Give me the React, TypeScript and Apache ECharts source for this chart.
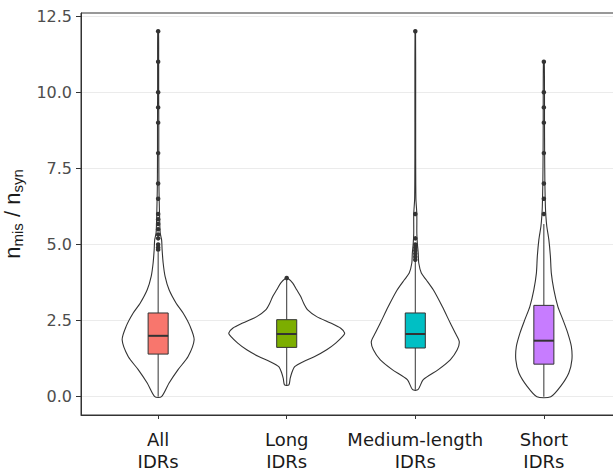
import React, { useEffect, useRef } from 'react';
import * as echarts from 'echarts';

const categories = ['All\nIDRs', 'Long\nIDRs', 'Medium-length\nIDRs', 'Short\nIDRs'];
const colors = ['#F8766D', '#7CAE00', '#00BFC4', '#C77CFF'];
const yTicks = [0, 2.5, 5, 7.5, 10, 12.5];
const xTicks = [1, 2, 3, 4];

// violin outlines: value levels and half-widths (in category units)
const allLevels = [0, 0.45, 0.89, 1.32, 1.87, 2.31, 2.75, 3.07, 3.51, 3.95, 4.39, 4.82, 5.15, 5.38, 5.8, 6.5, 7, 8, 9, 10, 11, 12];
const allWidths = [0.026, 0.085, 0.155, 0.233, 0.28, 0.249, 0.194, 0.14, 0.085, 0.054, 0.039, 0.031, 0.027, 0.016, 0.012, 0.008, 0.006, 0.005, 0.005, 0.004, 0.004, 0.003];
const longLevels = [0.39, 0.6, 0.78, 0.99, 1.16, 1.32, 1.54, 1.76, 1.98, 2.09, 2.25, 2.42, 2.63, 2.85, 3.07, 3.29, 3.51, 3.73, 3.89];
const longWidths = [0.017, 0.027, 0.039, 0.062, 0.132, 0.218, 0.311, 0.381, 0.435, 0.451, 0.42, 0.342, 0.233, 0.163, 0.132, 0.109, 0.078, 0.047, 0.008];
const mediumLevels = [0.23, 0.56, 0.89, 1.21, 1.54, 1.81, 2.09, 2.42, 2.96, 3.51, 3.84, 4.06, 4.39, 4.71, 5.04, 5.37, 6.0, 6.5, 8, 10, 12];
const mediumWidths = [0.021, 0.062, 0.179, 0.272, 0.326, 0.342, 0.311, 0.272, 0.21, 0.14, 0.085, 0.047, 0.027, 0.023, 0.016, 0.012, 0.012, 0.005, 0.003, 0.003, 0.002];
const shortLevels = [0, 0.34, 0.78, 1.21, 1.65, 2.09, 2.53, 2.96, 3.51, 4.06, 4.6, 5.15, 5.59, 5.92, 6.24, 7, 8, 9, 10, 11];
const shortWidths = [0.054, 0.13, 0.194, 0.218, 0.214, 0.186, 0.148, 0.109, 0.078, 0.058, 0.051, 0.039, 0.023, 0.016, 0.012, 0.008, 0.006, 0.005, 0.005, 0.003];

// box plot statistics
const q1 = [1.4, 1.62, 1.6, 1.07];
const medians = [2.0, 2.06, 2.06, 1.84];
const q3 = [2.75, 2.53, 2.75, 3.0];
const whiskerLow = [0, 0.39, 0.23, 0];
const whiskerHigh = [4.75, 3.85, 4.45, 5.67];

// outliers
const allOutliers = [12, 11, 10, 9.5, 9, 8, 7, 6.5, 6, 5.83, 5.67, 5.5, 5.33, 5.2, 5.0, 4.9, 4.83];
const longOutliers = [3.9];
const mediumOutliers = [12, 6, 5.2, 5.0, 4.9, 4.8, 4.7, 4.6, 4.5];
const shortOutliers = [11, 10, 9.5, 9, 8, 7, 6.5, 6];

const violinLevels = [allLevels, longLevels, mediumLevels, shortLevels];
const violinWidths = [allWidths, longWidths, mediumWidths, shortWidths];
const outlierSets = [allOutliers, longOutliers, mediumOutliers, shortOutliers];

const BOX_HALF = 0.078;

export default function App() {
  const ref = useRef<HTMLDivElement>(null);
  useEffect(() => {
    if (!ref.current) return;
    const chart = echarts.init(ref.current, null, { renderer: 'svg' });
    const ink = '#333333';
    const labelFont = { fontFamily: 'DejaVu Sans', fontSize: 18, color: '#1a1a1a' };
    const titleFont = { fontFamily: 'Liberation Sans', color: '#1a1a1a' };
    const option: any = {
      animation: false,
      backgroundColor: '#ffffff',
      grid: {
        left: 81,
        top: 13,
        width: 540,
        height: 402,
        show: true,
        borderColor: ink,
        borderWidth: 1,
        backgroundColor: 'transparent',
        containLabel: false,
        outerBoundsMode: 'none',
      },
      xAxis: {
        type: 'value',
        min: 0.4,
        max: 4.6,
        axisLine: { show: true, onZero: false, lineStyle: { color: ink, width: 1 } },
        axisTick: { show: true, customValues: xTicks, length: 4, lineStyle: { color: ink } },
        axisLabel: {
          customValues: xTicks,
          formatter: (v: number) => {
            const name = categories[Math.round(v) - 1];
            if (!name) return '';
            const [a, b] = name.split('\n');
            return `{a|${a}}\n{b|${b}}`;
          },
          margin: 7,
          ...labelFont,
          rich: {
            a: { ...labelFont, lineHeight: 34 },
            b: { ...labelFont, lineHeight: 10 },
          },
        },
        splitLine: { show: false },
      },
      yAxis: {
        type: 'value',
        min: -0.6,
        max: 12.6,
        name: '{n|n}{s|mis}{n| / n}{s|syn}',
        nameLocation: 'middle',
        nameGap: 31,
        nameTextStyle: {
          ...titleFont,
          rich: {
            n: { ...titleFont, fontSize: 22, lineHeight: 26, verticalAlign: 'middle' },
            s: { ...titleFont, fontSize: 15, lineHeight: 14, verticalAlign: 'bottom' },
          },
        },
        axisLine: { show: true, onZero: false, lineStyle: { color: ink, width: 1 } },
        axisTick: { show: true, customValues: yTicks, length: 5, lineStyle: { color: ink } },
        axisLabel: {
          customValues: yTicks,
          formatter: (v: number) => v.toFixed(1),
          fontFamily: 'DejaVu Sans',
          fontSize: 16,
          color: '#4D4D4D',
          margin: 9,
        },
        splitLine: { show: true, lineStyle: { color: '#EBEBEB', width: 1 } },
      },
      series: [
        {
          type: 'custom',
          data: categories.map((_, i) => [i]),
          encode: { x: 0 },
          z: 2,
          renderItem: (params: any, api: any) => {
            const i = api.value(0) as number;
            const cx = i + 1;
            const levels = violinLevels[i];
            const widths = violinWidths[i];
            const right = levels.map((v, k) => api.coord([cx + widths[k], v]));
            const left = levels.map((v, k) => api.coord([cx - widths[k], v])).reverse();
            const pts = right.concat(left);
            const px = api.coord([cx, 0])[0];
            const bl = api.coord([cx - BOX_HALF, q3[i]]);
            const br = api.coord([cx + BOX_HALF, q1[i]]);
            const yMed = api.coord([cx, medians[i]])[1];
            const yLow = api.coord([cx, whiskerLow[i]])[1];
            const yHigh = api.coord([cx, whiskerHigh[i]])[1];
            return {
              type: 'group',
              children: [
                {
                  type: 'polygon',
                  shape: { points: pts, smooth: 0.25 },
                  style: { fill: '#ffffff', stroke: ink, lineWidth: 1.1 },
                },
                {
                  type: 'line',
                  shape: { x1: px, y1: yLow, x2: px, y2: br[1] },
                  style: { stroke: ink, lineWidth: 1 },
                },
                {
                  type: 'line',
                  shape: { x1: px, y1: bl[1], x2: px, y2: yHigh },
                  style: { stroke: ink, lineWidth: 1 },
                },
                {
                  type: 'rect',
                  shape: { x: bl[0], y: bl[1], width: br[0] - bl[0], height: br[1] - bl[1] },
                  style: { fill: colors[i], stroke: ink, lineWidth: 1 },
                },
                {
                  type: 'line',
                  shape: { x1: bl[0], y1: yMed, x2: br[0], y2: yMed },
                  style: { stroke: ink, lineWidth: 2 },
                },
              ],
            };
          },
        },
        {
          type: 'scatter',
          z: 3,
          symbol: 'circle',
          symbolSize: 4.5,
          itemStyle: { color: ink, opacity: 1 },
          data: outlierSets.flatMap((arr, i) => arr.map((v) => [i + 1, v])),
        },
      ],
    };
    chart.setOption(option);
    return () => chart.dispose();
  }, []);
  return (
    <div
      ref={ref}
      style={{ position: 'absolute', left: 0, top: 0, width: 613, height: 472, background: '#fff' }}
    />
  );
}
